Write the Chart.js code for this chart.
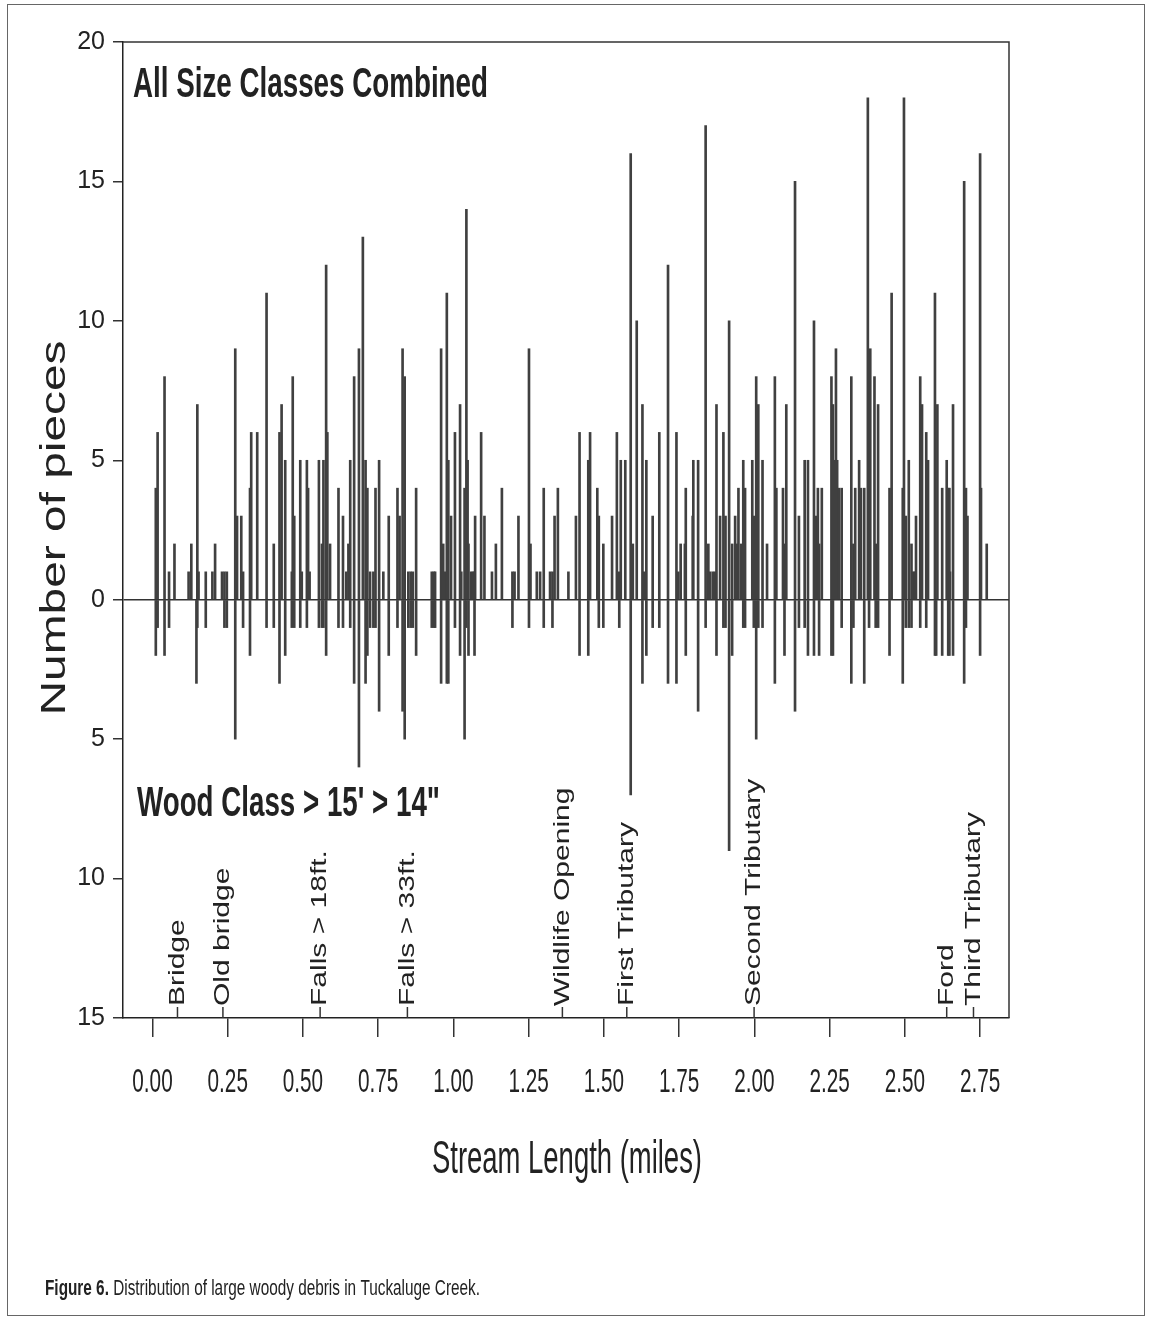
<!DOCTYPE html>
<html>
<head>
<meta charset="utf-8">
<script src="https://cdn.jsdelivr.net/npm/chart.js@4.4.1/dist/chart.umd.min.js"></script>
<style>
    html, body { margin: 0; padding: 0; background: #fff; }
    #wrap { width: 1151px; height: 1321px; }
</style>
</head>
<body>
<div id="wrap"><canvas id="woodChart" width="1151" height="1321"></canvas></div>
<script>
    // survey points along the creek (miles)
    var streamMiles = [
        0.011, 0.017, 0.040, 0.055, 0.073, 0.120, 0.129, 0.146, 0.149, 0.153, 0.177, 0.199, 0.208, 0.231, 0.239, 0.247, 0.275, 0.281, 0.295, 0.301, 0.324, 0.328, 0.348, 0.379, 0.403,
        0.422, 0.429, 0.441, 0.463, 0.466, 0.471, 0.491, 0.496, 0.513, 0.517, 0.522, 0.553, 0.563, 0.568, 0.577, 0.581, 0.590, 0.618, 0.633, 0.644, 0.651, 0.657, 0.670, 0.686, 0.699, 0.708, 0.714, 0.723, 0.734, 0.741, 0.753, 0.767, 0.785, 0.814, 0.821, 0.831, 0.838, 0.850, 0.858, 0.865, 0.876,
        0.928, 0.935, 0.939, 0.959, 0.966, 0.972, 0.978, 0.983, 0.992, 1.005, 1.022, 1.026, 1.037, 1.043, 1.047, 1.050, 1.059, 1.065, 1.070, 1.072, 1.092, 1.103, 1.128, 1.141, 1.161, 1.196, 1.203, 1.216, 1.251, 1.256, 1.277, 1.288, 1.300, 1.321, 1.329, 1.336, 1.347, 1.382, 1.407, 1.419,
        1.448, 1.454, 1.478, 1.483, 1.498, 1.527, 1.543, 1.551, 1.556, 1.571, 1.589, 1.596, 1.609, 1.628, 1.634, 1.641, 1.662, 1.684, 1.713, 1.741, 1.747, 1.755, 1.769, 1.772, 1.795, 1.797, 1.813, 1.838, 1.847, 1.853, 1.862, 1.869, 1.874, 1.886, 1.897, 1.904, 1.916, 1.926,
        1.936, 1.942, 1.947, 1.956, 1.963, 1.969, 1.993, 1.998, 2.006, 2.013, 2.027, 2.042, 2.068, 2.073, 2.095, 2.100, 2.106, 2.135, 2.148, 2.167, 2.178, 2.198, 2.204, 2.211, 2.215, 2.224, 2.256, 2.261, 2.268, 2.271, 2.275, 2.281, 2.290, 2.322, 2.329, 2.335, 2.348, 2.354, 2.365, 2.377, 2.381, 2.385, 2.399, 2.403, 2.411,
        2.449, 2.456, 2.493, 2.497, 2.503, 2.513, 2.522, 2.528, 2.533, 2.537, 2.551, 2.557, 2.571, 2.577, 2.600, 2.604, 2.608, 2.624, 2.639, 2.644, 2.648, 2.650, 2.660, 2.697, 2.703, 2.708, 2.750, 2.753, 2.772
    ];

    // all size classes combined (drawn upward)
    var allSizeCounts = [
        4, 6, 8, 1, 2, 1, 2, 0, 7, 1, 1, 1, 2, 1, 1, 1, 9, 3, 3, 1, 4, 6, 6, 11, 2,
        6, 7, 5, 1, 8, 3, 5, 1, 5, 4, 1, 5, 2, 5, 12, 6, 2, 4, 3, 1, 2, 5, 8, 9, 13, 5, 4, 1, 1, 4, 5, 1, 3, 4, 3, 9, 8, 1, 1, 1, 4,
        1, 1, 1, 9, 2, 1, 11, 5, 3, 6, 7, 1, 4, 14, 5, 2, 1, 1, 1, 3, 6, 3, 1, 2, 4, 1, 1, 3, 9, 2, 1, 1, 4, 1, 1, 3, 4, 1, 3, 6,
        5, 6, 4, 3, 2, 3, 6, 1, 5, 5, 16, 2, 10, 7, 1, 5, 3, 6, 12, 6, 1, 2, 2, 4, 3, 5, 5, 17, 2, 1, 1, 1, 7, 3, 6, 3, 10, 2,
        3, 2, 4, 2, 5, 4, 5, 3, 8, 7, 5, 2, 8, 4, 4, 2, 7, 15, 3, 5, 5, 10, 3, 4, 2, 4, 8, 7, 5, 9, 5, 4, 4, 8, 2, 4, 5, 4, 4, 18, 0, 9, 8, 2, 7,
        4, 11, 4, 18, 3, 5, 2, 1, 1, 3, 8, 7, 6, 5, 11, 0, 7, 4, 5, 4, 4, 1, 7, 15, 4, 3, 16, 4, 2
    ];

    // wood class > 15' > 14" (drawn downward)
    var largeWoodCounts = [
        2, 1, 2, 1, 0, 0, 0, 3, 1, 0, 1, 0, 0, 0, 1, 1, 5, 0, 0, 1, 2, 0, 0, 1, 1,
        3, 0, 2, 1, 0, 1, 1, 0, 1, 0, 0, 1, 1, 1, 2, 0, 0, 1, 1, 0, 0, 1, 3, 6, 0, 3, 2, 1, 1, 1, 4, 0, 2, 1, 0, 4, 5, 1, 1, 1, 2,
        1, 1, 1, 3, 0, 0, 3, 3, 0, 1, 2, 0, 5, 1, 0, 2, 0, 0, 2, 0, 0, 0, 0, 0, 0, 1, 0, 0, 1, 0, 0, 0, 1, 0, 1, 0, 0, 0, 0, 2,
        2, 0, 0, 1, 1, 0, 0, 1, 0, 0, 7, 0, 0, 3, 0, 2, 1, 1, 3, 3, 0, 0, 0, 2, 0, 0, 4, 1, 0, 0, 0, 0, 2, 0, 1, 1, 9, 2,
        0, 0, 0, 0, 1, 1, 0, 1, 5, 1, 1, 0, 3, 0, 0, 2, 0, 4, 1, 1, 2, 2, 0, 0, 2, 0, 2, 2, 0, 0, 0, 0, 1, 3, 1, 0, 0, 0, 3, 0, 1, 0, 0, 1, 1,
        2, 0, 3, 0, 1, 1, 1, 0, 0, 0, 1, 0, 1, 0, 2, 2, 0, 2, 0, 2, 2, 0, 2, 3, 1, 0, 2, 0, 0
    ];

    var xTickValues = [0, 0.25, 0.5, 0.75, 1, 1.25, 1.5, 1.75, 2, 2.25, 2.5, 2.75];

    var landmarkNames = ['Bridge', 'Old bridge', 'Falls > 18ft.', 'Falls > 33ft.', 'Wildlife Opening', 'First Tributary', 'Second Tributary', 'Ford', 'Third Tributary'];
    var landmarkMiles = [0.083, 0.234, 0.557, 0.847, 1.362, 1.576, 1.999, 2.639, 2.728];

    var upPoints = [];
    var downPoints = [];
    streamMiles.forEach(function (m, i) {
        if (allSizeCounts[i] > 0) {
            upPoints.push({ x: m, y: allSizeCounts[i] });
        }
        if (largeWoodCounts[i] > 0) {
            downPoints.push({ x: m, y: -largeWoodCounts[i] });
        }
    });

    // text in the scan is squeezed sideways, so draw it with a scale
    function drawText(ctx, text, x, y, o) {
        ctx.save();
        ctx.translate(x, y);
        if (o.rotate) {
            ctx.rotate(o.rotate);
        }
        ctx.font = o.font;
        var sx = o.sx || 1;
        if (o.width) {
            sx = o.width / ctx.measureText(text).width;
        }
        ctx.scale(sx, o.sy || 1);
        ctx.textAlign = o.align || 'left';
        ctx.textBaseline = o.baseline || 'alphabetic';
        ctx.fillStyle = o.color || '#222';
        ctx.fillText(text, 0, 0);
        ctx.restore();
    }

    var textPlugin = {
        id: 'figureText',
        afterDraw: function (chart) {
            var ctx = chart.ctx;
            var area = chart.chartArea;
            var xs = chart.scales.x;

            // outer frame of the scanned figure
            ctx.save();
            ctx.strokeStyle = '#666';
            ctx.lineWidth = 1;
            ctx.strokeRect(7.5, 4.5, 1137, 1311);

            // top and right edges of the plot box
            ctx.strokeStyle = '#333';
            ctx.lineWidth = 1.5;
            ctx.beginPath();
            ctx.moveTo(area.left, area.top);
            ctx.lineTo(area.right, area.top);
            ctx.lineTo(area.right, area.bottom);
            ctx.stroke();
            ctx.restore();

            // x tick labels
            xs.ticks.forEach(function (t) {
                var px = xs.getPixelForValue(t.value);
                drawText(ctx, t.value.toFixed(2), px, area.bottom + 74, { font: '34px "Liberation Sans", Arial, sans-serif', sx: 0.61, align: 'center' });
            });

            // landmarks along the stream
            landmarkNames.forEach(function (name, i) {
                var px = xs.getPixelForValue(landmarkMiles[i]);
                ctx.save();
                ctx.strokeStyle = '#333';
                ctx.lineWidth = 1.5;
                ctx.beginPath();
                ctx.moveTo(px, area.bottom);
                ctx.lineTo(px, area.bottom - 11);
                ctx.stroke();
                ctx.restore();
                drawText(ctx, name, px, area.bottom - 12, { font: '30px "Liberation Sans", Arial, sans-serif', rotate: -Math.PI / 2, sy: 0.76, baseline: 'middle' });
            });

            drawText(ctx, 'All Size Classes Combined', 133, 97, { font: 'bold 42px "Liberation Sans", Arial, sans-serif', width: 355 });
            drawText(ctx, 'Wood Class > 15\' > 14"', 137, 816, { font: 'bold 42px "Liberation Sans", Arial, sans-serif', width: 303 });

            drawText(ctx, 'Number of pieces', 55, 528, { font: '48px "Liberation Sans", Arial, sans-serif', rotate: -Math.PI / 2, width: 375, sy: 0.72, align: 'center', baseline: 'middle' });
            drawText(ctx, 'Stream Length (miles)', 567, 1173, { font: '46px "Liberation Sans", Arial, sans-serif', width: 270, align: 'center' });

            // caption: bold label + plain text, squeezed together
            ctx.save();
            ctx.font = 'bold 22px "Liberation Sans", Arial, sans-serif';
            var boldPart = 'Figure 6.';
            var w1 = ctx.measureText(boldPart).width;
            ctx.font = '22px "Liberation Sans", Arial, sans-serif';
            var restPart = ' Distribution of large woody debris in Tuckaluge Creek.';
            var w2 = ctx.measureText(restPart).width;
            var k = 435 / (w1 + w2);
            ctx.translate(45, 1295);
            ctx.scale(k, 1);
            ctx.fillStyle = '#222';
            ctx.textBaseline = 'alphabetic';
            ctx.font = 'bold 22px "Liberation Sans", Arial, sans-serif';
            ctx.fillText(boldPart, 0, 0);
            ctx.font = '22px "Liberation Sans", Arial, sans-serif';
            ctx.fillText(restPart, w1, 0);
            ctx.restore();
        }
    };

    var ctx = document.getElementById('woodChart').getContext('2d');

    var woodChart = new Chart(ctx, {
        type: 'bar',
        data: {
            datasets: [{
                label: 'All Size Classes Combined',
                data: upPoints,
                backgroundColor: '#404040',
                borderWidth: 0,
                barThickness: 2,
                grouped: false
            }, {
                label: 'Wood Class > 15\' > 14"',
                data: downPoints,
                backgroundColor: '#404040',
                borderWidth: 0,
                barThickness: 2,
                grouped: false
            }]
        },
        options: {
            responsive: false,
            animation: false,
            devicePixelRatio: 1,
            layout: {
                padding: { top: 42, right: 142, left: 0, bottom: 0 }
            },
            plugins: {
                legend: { display: false },
                tooltip: { enabled: false }
            },
            scales: {
                x: {
                    type: 'linear',
                    min: -0.098,
                    max: 2.846,
                    offset: false,
                    afterBuildTicks: function (scale) {
                        scale.ticks = xTickValues.map(function (v) { return { value: v }; });
                    },
                    afterFit: function (scale) {
                        scale.height = 303;
                    },
                    ticks: { display: false },
                    grid: {
                        offset: false,
                        drawOnChartArea: false,
                        drawTicks: true,
                        tickLength: 19,
                        color: '#333',
                        lineWidth: 1.5
                    },
                    border: { display: true, color: '#222', width: 1.5 }
                },
                y: {
                    min: -15,
                    max: 20,
                    afterFit: function (scale) {
                        scale.width = 123;
                    },
                    ticks: {
                        stepSize: 5,
                        padding: 8,
                        color: '#222',
                        font: { family: '"Liberation Sans", Arial, sans-serif', size: 25 },
                        callback: function (value) {
                            return Math.abs(value);
                        }
                    },
                    grid: {
                        drawOnChartArea: true,
                        drawTicks: true,
                        tickLength: 10,
                        tickColor: '#333',
                        lineWidth: 1.5,
                        color: function (c) {
                            return c.tick && c.tick.value === 0 ? '#333' : 'rgba(0,0,0,0)';
                        }
                    },
                    border: { display: true, color: '#222', width: 1.5 }
                }
            }
        },
        plugins: [textPlugin]
    });
</script>
</body>
</html>
